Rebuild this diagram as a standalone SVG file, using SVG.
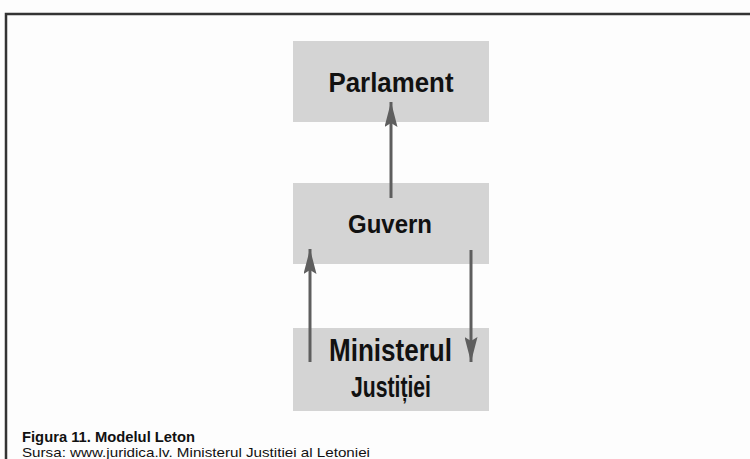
<svg xmlns="http://www.w3.org/2000/svg" width="750" height="459" viewBox="0 0 750 459">
<defs>
<style>
.box{fill:#d4d4d4}
.lbl{font-family:"Liberation Sans",Arial,sans-serif;font-weight:bold;fill:#111;text-anchor:middle}
.conn{stroke:#5e5e5e;stroke-width:3;fill:none}
.cap{font-family:"Liberation Sans",Arial,sans-serif;fill:#111}
</style>
<marker id="ah" viewBox="0 0 25 13" refX="25" refY="6.5" markerWidth="25" markerHeight="13" markerUnits="userSpaceOnUse" orient="auto">
<path d="M0,0 L25,6.5 L0,13 L4,6.5 Z" fill="#5e5e5e"/>
</marker>
</defs>
<rect width="750" height="459" fill="#fdfdfd"/>
<path d="M6,459 V14 H750" fill="none" stroke="#333" stroke-width="2.5"/>
<g id="parlament">
<rect class="box" x="293" y="41" width="196" height="81"/>
<text class="lbl" x="391" y="92" font-size="27" textLength="125" lengthAdjust="spacingAndGlyphs">Parlament</text>
</g>
<g id="guvern">
<rect class="box" x="293" y="183" width="196" height="81"/>
<text class="lbl" x="390" y="233" font-size="26" textLength="84" lengthAdjust="spacingAndGlyphs">Guvern</text>
</g>
<g id="ministerul">
<rect class="box" x="293" y="328" width="196" height="83"/>
<text class="lbl" x="390.5" y="361" font-size="31" textLength="123" lengthAdjust="spacingAndGlyphs">Ministerul</text>
<text class="lbl" x="391" y="397" font-size="30" textLength="80" lengthAdjust="spacingAndGlyphs">Justiției</text>
</g>
<g id="connectors">
<line class="conn" x1="391" y1="198" x2="391" y2="102" marker-end="url(#ah)"/>
<line class="conn" x1="310" y1="362" x2="310" y2="249" marker-end="url(#ah)"/>
<line class="conn" x1="471" y1="250" x2="471" y2="362" marker-end="url(#ah)"/>
</g>
<g id="caption">
<text class="cap" x="22" y="442" font-size="14.5" font-weight="bold" textLength="173" lengthAdjust="spacingAndGlyphs">Figura 11. Modelul Leton</text>
<text class="cap" x="22" y="456.5" font-size="13.5" textLength="348" lengthAdjust="spacingAndGlyphs">Sursa: www.juridica.lv. Ministerul Justitiei al Letoniei</text>
</g>
</svg>
